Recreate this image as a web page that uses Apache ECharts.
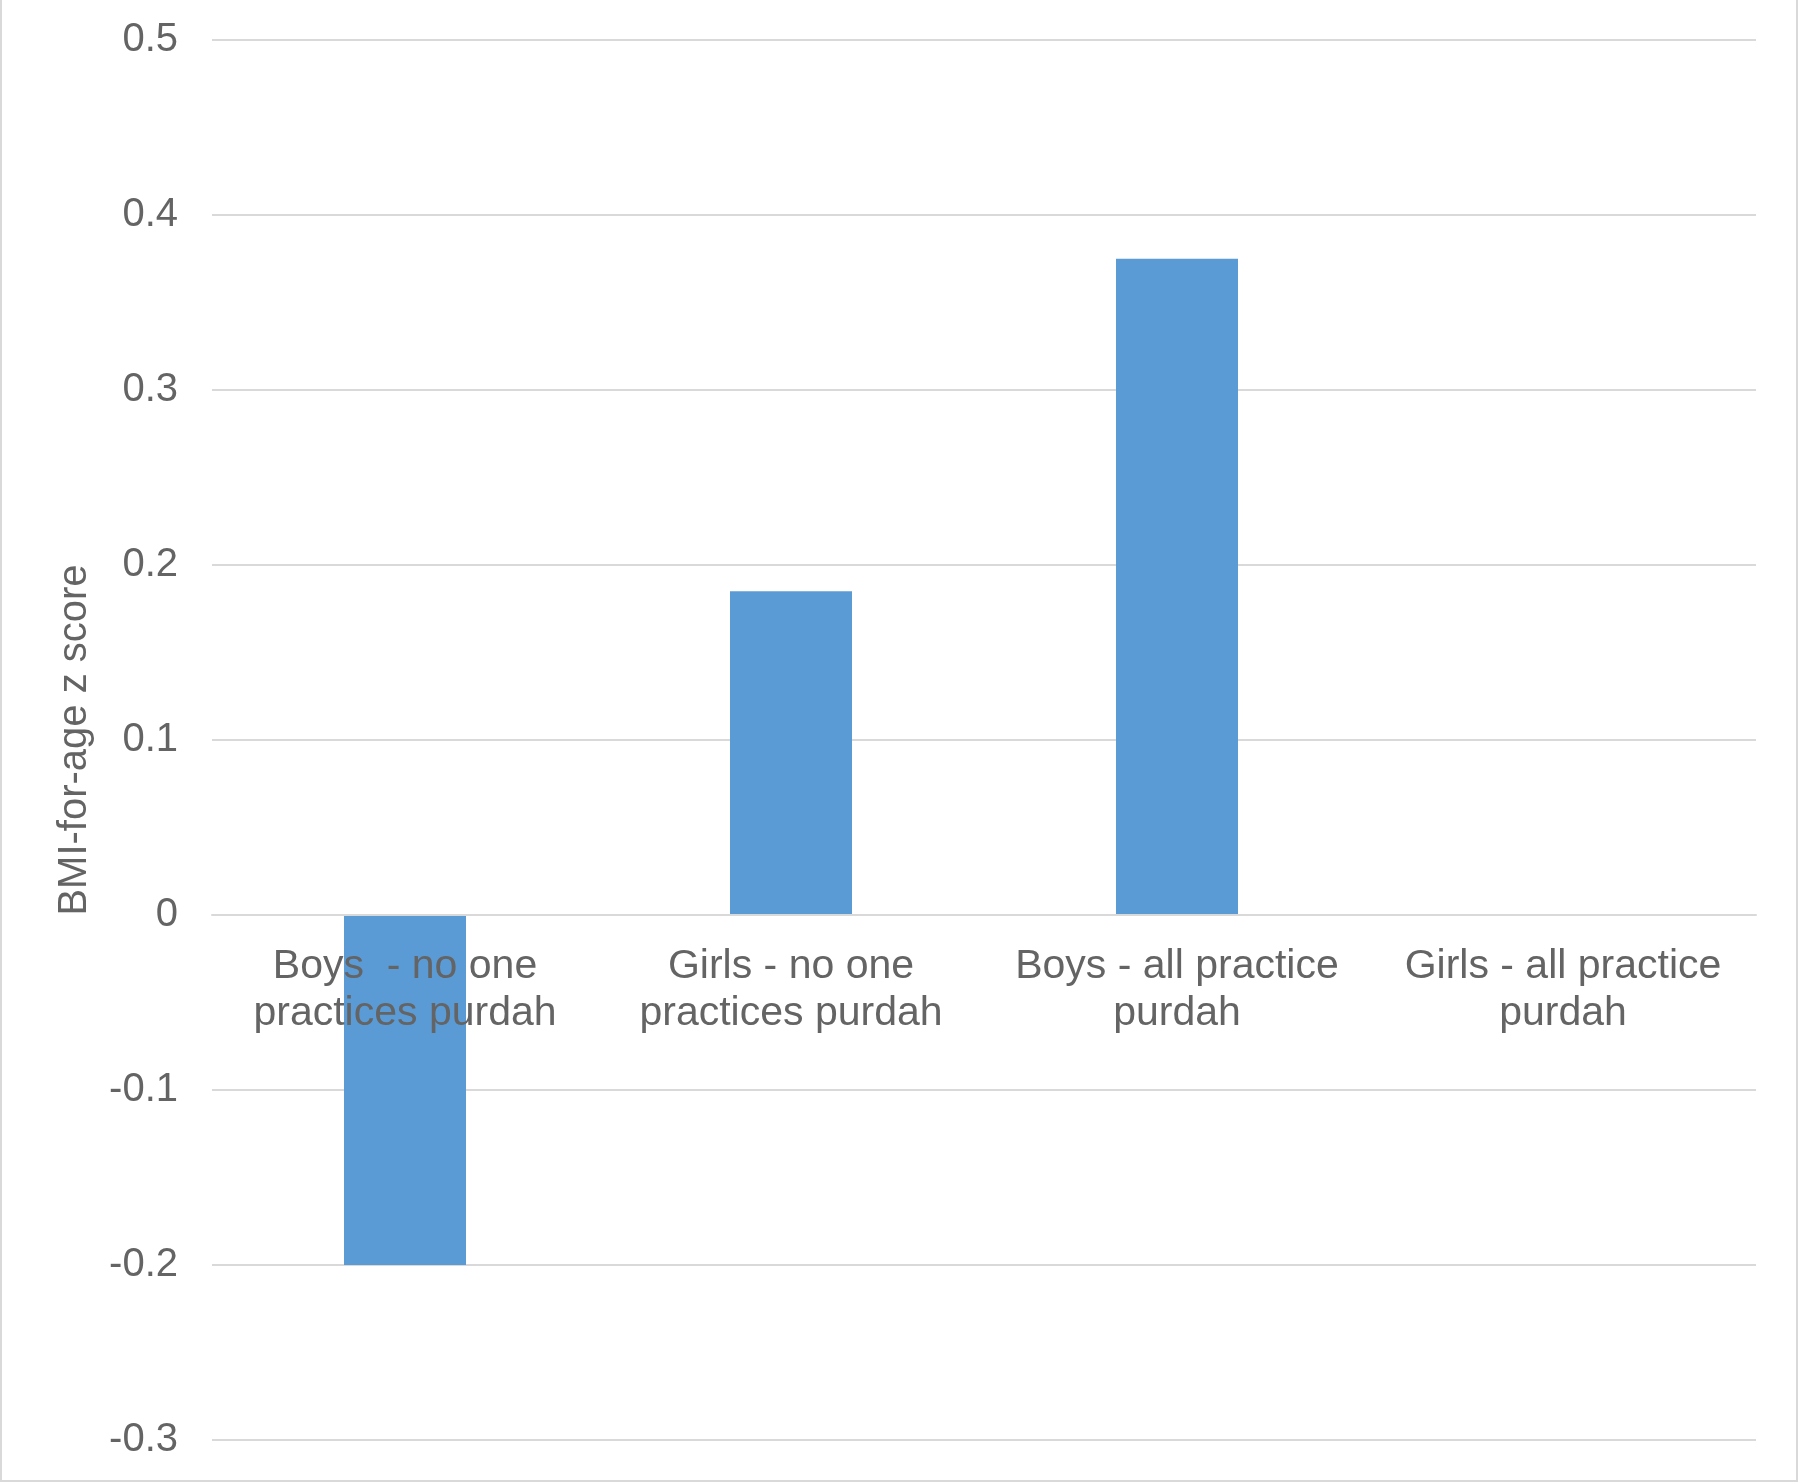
<!DOCTYPE html>
<html>
<head>
<meta charset="utf-8">
<script src="https://cdn.jsdelivr.net/npm/echarts@6/dist/echarts.min.js"></script>
<style>
    html, body { margin: 0; padding: 0; background: #fff; }
    #chart { width: 1800px; height: 1484px; }
</style>
</head>
<body>
<div id="chart"></div>
<script>
var categories = [
    'Boys  - no one\npractices purdah',
    'Girls - no one\npractices purdah',
    'Boys - all practice\npurdah',
    'Girls - all practice\npurdah'
];
var zScores = [-0.2, 0.185, 0.375, 0];
var yTicks = { min: -0.3, max: 0.5, step: 0.1 };

(function(){
    var chart = echarts.init(document.getElementById('chart'));
    var textColor = '#646464';
    var option = {
        animation: false,
        textStyle: { fontFamily: 'Liberation Sans, Arial, sans-serif' },
        grid: { left: 212, right: 44, top: 40, bottom: 44, outerBoundsMode: 'none', containLabel: false },
        graphic: [{
            type: 'rect',
            shape: { x: 1, y: -5, width: 1796, height: 1486 },
            style: { fill: 'none', stroke: '#d9d9d9', lineWidth: 2 },
            silent: true
        }],
        xAxis: {
            type: 'category',
            data: categories,
            z: 5,
            axisLine: { onZero: false, lineStyle: { color: '#d9d9d9', width: 2 } },
            axisTick: { show: false },
            axisLabel: {
                color: textColor,
                fontSize: 41,
                lineHeight: 47,
                margin: 28,
                interval: 0
            }
        },
        yAxis: {
            type: 'value',
            min: yTicks.min,
            max: yTicks.max,
            interval: yTicks.step,
            name: 'BMI-for-age z score',
            nameLocation: 'middle',
            nameGap: 117,
            nameTextStyle: { color: textColor, fontSize: 40 },
            axisLine: { show: false },
            axisTick: { show: false },
            axisLabel: {
                color: textColor,
                fontSize: 40,
                margin: 34,
                formatter: function (v) { return String(Math.round(v * 10) / 10); }
            },
            splitLine: { lineStyle: { color: '#d9d9d9', width: 2 } }
        },
        series: [{
            type: 'bar',
            data: zScores,
            barWidth: 122,
            itemStyle: { color: '#5b9bd5' }
        }]
    };
    chart.setOption(option);

    // put the category axis (and its labels) on the zero line, as in Excel
    var zeroY = chart.convertToPixel({ yAxisIndex: 0 }, 0);
    var bottomY = chart.convertToPixel({ yAxisIndex: 0 }, yTicks.min);
    chart.setOption({ xAxis: { offset: zeroY - bottomY } });
}());
</script>
</body>
</html>
